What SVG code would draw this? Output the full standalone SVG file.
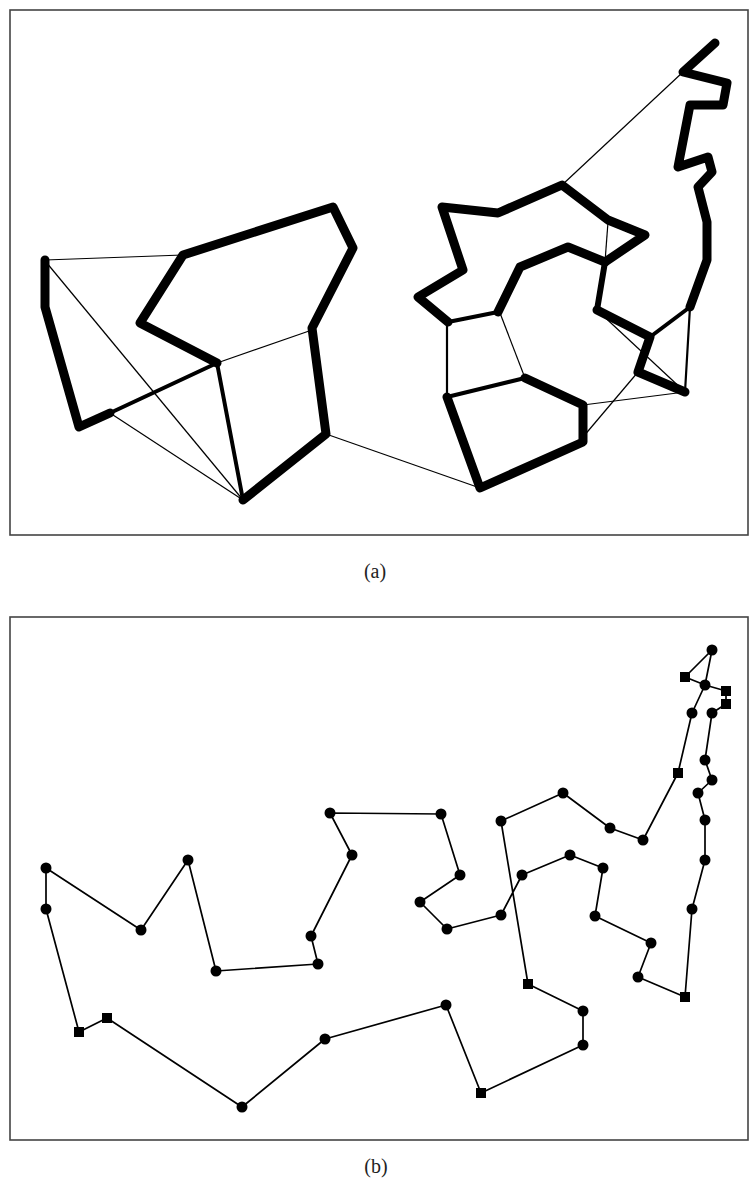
<svg xmlns="http://www.w3.org/2000/svg" width="750" height="1189" viewBox="0 0 750 1189">
<style>
.frame{fill:none;stroke:#444;stroke-width:1.6}
.t{fill:none;stroke:#000;stroke-width:9;stroke-linejoin:round;stroke-linecap:round}
.m{fill:none;stroke:#000;stroke-width:4;stroke-linecap:round}
.n{fill:none;stroke:#000;stroke-width:2.2;stroke-linecap:round}
.s{fill:none;stroke:#000;stroke-width:1.2}
.tour{fill:none;stroke:#000;stroke-width:1.7;stroke-linejoin:round}
.dot{fill:#000}
.lbl{font-family:"Liberation Serif","DejaVu Serif",serif;font-size:20px;fill:#222;text-anchor:middle}
</style>
<rect width="750" height="1189" fill="#fff"/>
<g id="panel-a">
<rect class="frame" x="10" y="10" width="738" height="525"/>
<g id="connectors-a">
<polyline class="t" points="45,260 45,307 79,427 110,413"/>
<polyline class="t" points="217,363 140,323 183,255 333,207 353,248 312,328 326,434 243,500"/>
<line class="m" x1="110" y1="413" x2="217" y2="363"/>
<line class="m" x1="217" y1="363" x2="243" y2="500"/>
<line class="s" x1="45" y1="260" x2="183" y2="255"/>
<line class="s" x1="46" y1="262" x2="243" y2="500"/>
<line class="s" x1="110" y1="413" x2="243" y2="500"/>
<line class="s" x1="217" y1="363" x2="312" y2="330"/>
<line class="s" x1="326" y1="434" x2="480" y2="488"/>
<polyline class="t" points="715,43 683,72 727,83 723,105 690,105 678,167 708,157 712,172 698,187 707,222 707,260 690,307"/>
<line class="m" x1="690" y1="307" x2="650" y2="337"/>
<polyline class="t" points="685,392 638,372 650,337 597,310"/>
<line class="m" x1="597" y1="310" x2="605" y2="262" style="stroke-width:6"/>
<polyline class="t" points="605,262 645,235 608,220 562,185 498,213 442,207 463,270 418,297 448,322"/>
<line class="m" x1="448" y1="322" x2="498" y2="312"/>
<polyline class="t" points="498,312 520,267 568,247 605,262"/>
<line class="n" x1="447" y1="325" x2="447" y2="397"/>
<line class="m" x1="447" y1="397" x2="525" y2="378"/>
<polyline class="t" points="525,378 583,405 583,442 480,488 447,397"/>
<line class="s" x1="562" y1="185" x2="683" y2="72"/>
<line class="s" x1="608" y1="222" x2="605" y2="262"/>
<line class="s" x1="597" y1="310" x2="685" y2="392"/>
<line class="n" x1="690" y1="307" x2="685" y2="392"/>
<line class="s" x1="500" y1="313" x2="525" y2="378"/>
<line class="s" x1="583" y1="405" x2="685" y2="392"/>
<line class="s" x1="583" y1="437" x2="638" y2="372"/>
</g>
</g>
<text class="lbl" x="375" y="578">(a)</text>
<g id="panel-b">
<rect class="frame" x="10" y="617" width="738" height="523"/>
<g id="connectors-b">
<polyline class="tour" points="46,868 46,909 79,1032 107,1018 242,1107 325,1039 446,1005 481,1093 583,1045 583,1011 528,984 501,821 563,793 610,828 643,840 678,773 692,713 705,685 712,650 685,677 705,685 726,691 726,704 712,713 705,760 712,780 698,793 705,820 705,860 692,909 685,997 638,977 651,943 595,916 603,868 570,855 522,875 501,915 447,929 420,902 460,875 441,814 330,813 352,855 311,936 318,964 216,971 188,860 141,930 46,868"/>
</g>
<g id="nodes-b" class="dot">
<g id="b1"><circle cx="46" cy="868" r="5.5"/></g>
<g id="b2"><circle cx="46" cy="909" r="5.5"/></g>
<g id="b3"><rect x="74" y="1027" width="10" height="10"/></g>
<g id="b4"><rect x="102" y="1013" width="10" height="10"/></g>
<g id="b5"><circle cx="242" cy="1107" r="5.5"/></g>
<g id="b6"><circle cx="325" cy="1039" r="5.5"/></g>
<g id="b7"><circle cx="446" cy="1005" r="5.5"/></g>
<g id="b8"><rect x="476" y="1088" width="10" height="10"/></g>
<g id="b9"><circle cx="583" cy="1045" r="5.5"/></g>
<g id="b10"><circle cx="583" cy="1011" r="5.5"/></g>
<g id="b11"><rect x="523" y="979" width="10" height="10"/></g>
<g id="b12"><circle cx="501" cy="821" r="5.5"/></g>
<g id="b13"><circle cx="563" cy="793" r="5.5"/></g>
<g id="b14"><circle cx="610" cy="828" r="5.5"/></g>
<g id="b15"><circle cx="643" cy="840" r="5.5"/></g>
<g id="b16"><rect x="673" y="768" width="10" height="10"/></g>
<g id="b17"><circle cx="692" cy="713" r="5.5"/></g>
<g id="b18"><circle cx="705" cy="685" r="5.5"/></g>
<g id="b19"><circle cx="712" cy="650" r="5.5"/></g>
<g id="b20"><rect x="680" y="672" width="10" height="10"/></g>
<g id="b21"><rect x="721" y="686" width="10" height="10"/></g>
<g id="b22"><rect x="721" y="699" width="10" height="10"/></g>
<g id="b23"><circle cx="712" cy="713" r="5.5"/></g>
<g id="b24"><circle cx="705" cy="760" r="5.5"/></g>
<g id="b25"><circle cx="712" cy="780" r="5.5"/></g>
<g id="b26"><circle cx="698" cy="793" r="5.5"/></g>
<g id="b27"><circle cx="705" cy="820" r="5.5"/></g>
<g id="b28"><circle cx="705" cy="860" r="5.5"/></g>
<g id="b29"><circle cx="692" cy="909" r="5.5"/></g>
<g id="b30"><rect x="680" y="992" width="10" height="10"/></g>
<g id="b31"><circle cx="638" cy="977" r="5.5"/></g>
<g id="b32"><circle cx="651" cy="943" r="5.5"/></g>
<g id="b33"><circle cx="595" cy="916" r="5.5"/></g>
<g id="b34"><circle cx="603" cy="868" r="5.5"/></g>
<g id="b35"><circle cx="570" cy="855" r="5.5"/></g>
<g id="b36"><circle cx="522" cy="875" r="5.5"/></g>
<g id="b37"><circle cx="501" cy="915" r="5.5"/></g>
<g id="b38"><circle cx="447" cy="929" r="5.5"/></g>
<g id="b39"><circle cx="420" cy="902" r="5.5"/></g>
<g id="b40"><circle cx="460" cy="875" r="5.5"/></g>
<g id="b41"><circle cx="441" cy="814" r="5.5"/></g>
<g id="b42"><circle cx="330" cy="813" r="5.5"/></g>
<g id="b43"><circle cx="352" cy="855" r="5.5"/></g>
<g id="b44"><circle cx="311" cy="936" r="5.5"/></g>
<g id="b45"><circle cx="318" cy="964" r="5.5"/></g>
<g id="b46"><circle cx="216" cy="971" r="5.5"/></g>
<g id="b47"><circle cx="188" cy="860" r="5.5"/></g>
<g id="b48"><circle cx="141" cy="930" r="5.5"/></g>
</g>
</g>
<text class="lbl" x="376" y="1173">(b)</text>
</svg>
